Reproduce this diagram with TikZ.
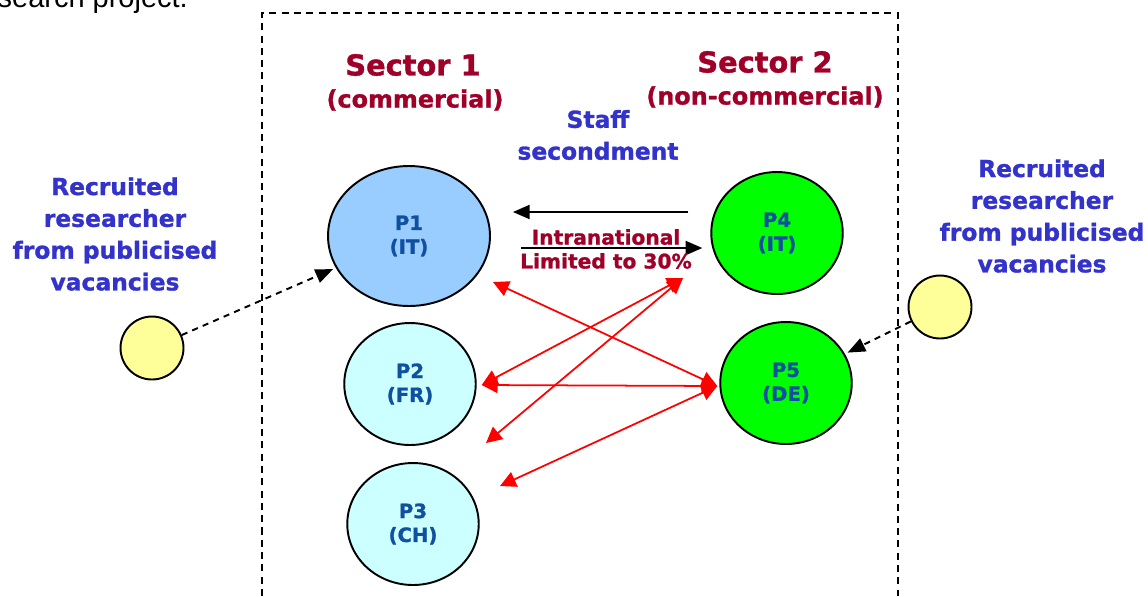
\documentclass[tikz,border=0pt]{standalone}
\usepackage{fontspec}
\setmainfont{DejaVu Sans}[BoldFeatures={FakeBold=1.2}]
\newfontfamily\pagefont{Liberation Sans}
\usepackage{tikz}
\usetikzlibrary{arrows.meta,calc,shapes.geometric}

\definecolor{sectorred}{RGB}{160,0,40}
\definecolor{recruitblue}{RGB}{51,51,204}
\definecolor{partnerblue}{RGB}{16,80,160}
\definecolor{italyblue}{RGB}{153,204,255}
\definecolor{paleblue}{RGB}{204,255,255}
\definecolor{fullgreen}{RGB}{0,255,0}
\definecolor{paleyellow}{RGB}{255,255,153}

\begin{document}
\begin{tikzpicture}[x=0.02cm,y=-0.02cm,
    sectortitle/.style={text=sectorred,font=\fontsize{16.4}{20}\selectfont\bfseries},
    sectorkind/.style={text=sectorred,font=\fontsize{13.6}{16}\selectfont\bfseries},
    bluenote/.style={text=recruitblue,align=center,font=\fontsize{13.3}{18.1}\selectfont\bfseries},
    partner/.style={ellipse,draw=black,line width=1.1pt,inner sep=0pt,minimum width=2.63cm,minimum height=2.44cm,
        text=partnerblue,align=center,font=\fontsize{11.2}{13.6}\selectfont\bfseries},
    recruit/.style={circle,draw=black,line width=1.1pt,fill=paleyellow,inner sep=0pt,minimum size=1.26cm},
    secondarrow/.style={line width=1.1pt,-{Triangle[length=9.5pt,width=8pt]}},
    exchange/.style={red,line width=1pt,{Triangle[length=9pt,width=9pt]}-{Triangle[length=9pt,width=9pt]}},
    hire/.style={line width=1.1pt,dash pattern=on 3.5pt off 3pt,-{Triangle[length=10pt,width=8pt]},shorten >=1.7pt}]
    \useasboundingbox (0,0) rectangle (1148,596);
    \clip (0,0) rectangle (1148,596);
    % cut-off line of the page above
    \node [anchor=base east,font=\pagefont\fontsize{16.5}{18}\selectfont] (pagetext) at (194,7) {research project.};
    % project boundary
    \draw [line width=1pt,dash pattern=on 4pt off 3pt] (262,596) -- (262,13) -- (898,13) -- (898,596);
    \node [sectortitle] (sec1) at (413,65) {Sector 1};
    \node [sectorkind] (kind1) at (415,100) {(commercial)};
    \node [sectortitle] (sec2) at (765,62) {Sector 2};
    \node [sectorkind] (kind2) at (765,97) {(non-commercial)};
    \node [bluenote] (staff) at (598,135) {Staff\\secondment};
    % partners
    \node [partner,fill=italyblue,minimum width=3.24cm,minimum height=2.8cm] (P1) at (409,236) {P1\\(IT)};
    \node [partner,fill=paleblue] (P2) at (410,384) {P2\\(FR)};
    \node [partner,fill=paleblue] (P3) at (413,524) {P3\\(CH)};
    \node [partner,fill=fullgreen] (P4) at (777,233) {P4\\(IT)};
    \node [partner,fill=fullgreen] (P5) at (786,383) {P5\\(DE)};
    % recruited researchers
    \node [bluenote] (leftnote) at (115,234) {Recruited\\researcher\\from publicised\\vacancies};
    \node [bluenote] (rightnote) at (1042,216) {Recruited\\researcher\\from publicised\\vacancies};
    \node [recruit] (R1) at (152,348) {};
    \node [recruit] (R2) at (940,307) {};
    \draw [hire] (R1) -- (P1);
    \draw [hire] (R2) -- (P5);
    % intranational secondment
    \coordinate (s1) at ($(P4.west)+(-22,-21)$);
    \coordinate (s2) at ($(P1.east)+(22,-24)$);
    \coordinate (s3) at ($(P1.east)+(30,12)$);
    \coordinate (s4) at ($(P4.west)+(-8,15)$);
    \draw [secondarrow] (s1) -- (s2);
    \draw [secondarrow] (s3) -- (s4);
    \node [align=center,text=sectorred,font=\fontsize{11.5}{13.6}\selectfont\bfseries] (intra) at (606,249) {Intranational\\Limited to 30\%};
    % international exchanges
    \coordinate (p1r) at ($(P1.center)+(84,46)$);
    \coordinate (p5l) at ($(P5.west)+(-2,3)$);
    \coordinate (p2r) at ($(P2.east)+(5,1)$);
    \coordinate (p4l) at ($(P4.center)+(-94,45)$);
    \coordinate (p3a) at ($(P3.center)+(73,-81)$);
    \coordinate (p3b) at ($(P3.center)+(87,-38)$);
    \draw [exchange] (p1r) -- (p5l);
    \draw [exchange] (p2r) -- (p4l);
    \draw [exchange] (p4l) -- (p3a);
    \draw [exchange] (p2r) -- (p5l);
    \draw [exchange] (p5l) -- (p3b);
\end{tikzpicture}
\end{document}
